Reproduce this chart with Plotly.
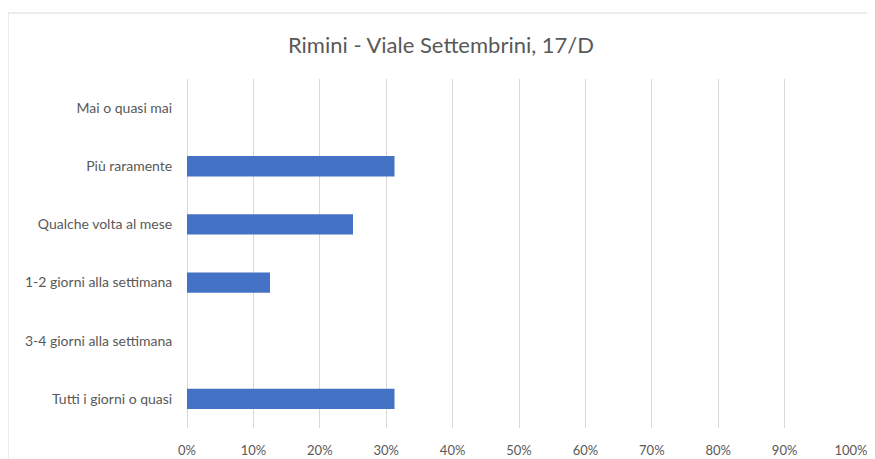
import plotly.graph_objects as go

# Data (share of respondents), listed top to bottom as in the chart
categories = [
    "Mai o quasi mai",
    "Più raramente",
    "Qualche volta al mese",
    "1-2 giorni alla settimana",
    "3-4 giorni alla settimana",
    "Tutti i giorni o quasi",
]
values = [0.0, 0.3125, 0.25, 0.125, 0.0, 0.3125]
x_ticks = [i / 10 for i in range(11)]

TEXT = "#595959"
GRID = "#d9d9d9"
BAR = "#4472C4"

fig = go.Figure()

fig.add_trace(
    go.Bar(
        x=values,
        y=categories,
        orientation="h",
        marker=dict(color=BAR, line=dict(width=0)),
        showlegend=False,
    )
)

# Chart area border (runs past the right and bottom edges of the picture)
fig.add_shape(
    type="rect",
    xref="paper",
    yref="paper",
    x0=-0.2696,
    x1=1.05,
    y0=-0.15,
    y1=1.189,
    line=dict(color=GRID, width=1),
    fillcolor="rgba(0,0,0,0)",
    layer="below",
)

# page body has an 8px margin, so the figure is 8px smaller each way
fig.update_layout(
    width=867,
    height=451,
    margin=dict(l=179, r=24, t=71, b=31),
    paper_bgcolor="white",
    plot_bgcolor="white",
    font=dict(family="Lato, 'Open Sans', sans-serif", color=TEXT, size=14),
    bargap=0.65,
    title=dict(
        text="Rimini - Viale Settembrini, 17/D",
        x=433 / 867,
        xref="container",
        xanchor="center",
        y=1 - 37 / 451,
        yanchor="middle",
        font=dict(size=22, color=TEXT),
    ),
    xaxis=dict(
        range=[0, 1],
        tickvals=x_ticks,
        tickformat=".0%",
        tickfont=dict(size=13),
        showgrid=True,
        gridcolor=GRID,
        gridwidth=1,
        zeroline=True,
        zerolinecolor=GRID,
        zerolinewidth=1,
        showline=False,
        ticks="outside",
        ticklen=10,
        tickcolor="rgba(0,0,0,0)",
        automargin=False,
        fixedrange=True,
    ),
    yaxis=dict(
        categoryorder="array",
        categoryarray=categories[::-1],
        showgrid=False,
        zeroline=False,
        showline=False,
        ticks="outside",
        ticklen=11,
        tickcolor="rgba(0,0,0,0)",
        automargin=False,
        fixedrange=True,
    ),
)

fig.write_html("out.html")
